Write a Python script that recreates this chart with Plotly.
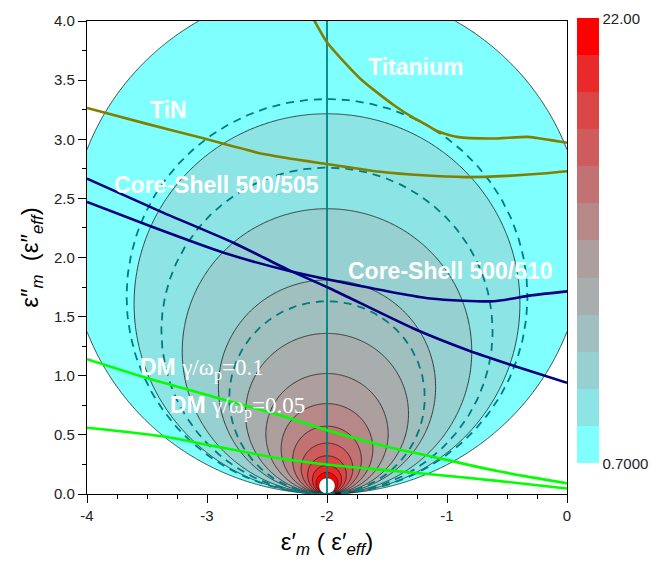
import numpy as np
import plotly.graph_objects as go

# ---------------- data ----------------
LEVEL_MIN = 0.7          # lowest contour level (colorbar bottom)
LEVEL_MAX = 22.0         # highest contour level (colorbar top)
N_BANDS = 12             # number of filled bands (geometric levels)
BAND_COLORS = [          # bottom -> top
    "#80FFFF", "#8CE4E4", "#97D0D0", "#A0BFBF", "#A8ADAD", "#AE9F9F",
    "#B68888", "#C27272", "#CE5C5C", "#DA4545", "#EA2A2A", "#FF0000",
]
DASHED_TOPS = [3.34, 2.76, 1.63]   # tops of dashed circles tangent at (-2, 0)
RESONANCE_X = -2.0

TITANIUM_X = [-2.13, -2.0, -1.72, -1.445, -1.278, -1.167, -1.083, -0.917, -0.64, -0.333, -0.25, 0.0]
TITANIUM_Y = [4.05, 3.82, 3.51, 3.29, 3.18, 3.12, 3.07, 3.02, 3.006, 3.02, 3.01, 2.97]

TIN_X = [-4.0, -3.5, -3.056, -2.53, -2.0, -1.556, -1.2, -0.85, -0.5, -0.2, 0.0]
TIN_Y = [3.265, 3.13, 3.014, 2.875, 2.79, 2.725, 2.695, 2.68, 2.69, 2.71, 2.73]

CS505_X = [-4.0, -3.39, -2.78, -2.33, -1.97, -1.28, -0.81, -0.4, 0.0]
CS505_Y = [2.667, 2.39, 2.125, 1.90, 1.736, 1.40, 1.21, 1.07, 0.94]

CS510_X = [-4.0, -3.47, -2.86, -2.33, -1.97, -1.14, -0.61, -0.3, 0.0]
CS510_Y = [2.47, 2.264, 2.04, 1.89, 1.81, 1.653, 1.63, 1.68, 1.714]

DM01_X = [-4.0, -3.5, -2.94, -2.39, -1.97, -1.5, -1.14, -0.58, 0.0]
DM01_Y = [1.14, 0.98, 0.82, 0.665, 0.53, 0.40, 0.32, 0.194, 0.09]

DM005_X = [-4.0, -3.36, -2.94, -2.39, -1.97, -1.5, -1.14, -0.58, 0.0]
DM005_Y = [0.56, 0.486, 0.405, 0.30, 0.245, 0.20, 0.167, 0.111, 0.047]

X_TICKS = [-4, -3, -2, -1, 0]
Y_TICKS = [0.0, 0.5, 1.0, 1.5, 2.0, 2.5, 3.0, 3.5, 4.0]

# ---------------- field: Im[(eps-1)/(eps+2)] ----------------
s = np.linspace(-1, 1, 401)
xg = RESONANCE_X + 2.0 * np.sign(s) * s**2
t = np.linspace(0, 1, 301)
yg = 4.0 * t**2
X, Y = np.meshgrid(xg, yg)
with np.errstate(divide="ignore", invalid="ignore"):
    Z = 3.0 * Y / ((X - RESONANCE_X) ** 2 + Y ** 2)
Z = np.nan_to_num(Z, nan=1e3, posinf=1e3)
LZ = np.log(np.clip(Z, 1e-2, 1e3))
LZ = np.round(LZ, 4)

lmin, lmax = np.log(LEVEL_MIN), np.log(LEVEL_MAX)
dl = (lmax - lmin) / N_BANDS
nlev = N_BANDS + 1
cscale = [[0.0, "#FFFFFF"]]
for k, c in enumerate(BAND_COLORS):
    cscale.append([(k + 1) / nlev, c])
cscale.append([1.0, "#FFFFFF"])

fig = go.Figure()
fig.add_trace(go.Contour(
    x=xg, y=yg, z=LZ,
    colorscale=cscale, showscale=False,
    contours=dict(start=lmin, end=lmax, size=dl, coloring="fill", showlines=True),
    line=dict(color="#1a1a1a", width=0.8, smoothing=1.0),
    hoverinfo="skip",
))

# dashed circles
th = np.linspace(0, 2 * np.pi, 361)
for top in DASHED_TOPS:
    r = top / 2.0
    fig.add_trace(go.Scatter(
        x=RESONANCE_X + r * np.sin(th), y=r - r * np.cos(th), mode="lines",
        line=dict(color="#007C80", width=1.8, dash="8px,6px"), hoverinfo="skip"))

# vertical resonance line
fig.add_trace(go.Scatter(x=[RESONANCE_X, RESONANCE_X], y=[0, 4], mode="lines",
                         line=dict(color="#008080", width=1.8), hoverinfo="skip"))

curves = [
    (TITANIUM_X, TITANIUM_Y, "#808000"),
    (TIN_X, TIN_Y, "#808000"),
    (CS505_X, CS505_Y, "#000080"),
    (CS510_X, CS510_Y, "#000080"),
    (DM01_X, DM01_Y, "#00FF00"),
    (DM005_X, DM005_Y, "#00FF00"),
]
for cx, cy, col in curves:
    fig.add_trace(go.Scatter(x=cx, y=cy, mode="lines", line=dict(color=col, width=2.6, shape="spline", smoothing=0.6),
                             hoverinfo="skip"))

# discrete colorbar (dummy trace)
step_scale = []
for i, c in enumerate(BAND_COLORS):
    step_scale.append([i / N_BANDS, c])
    step_scale.append([(i + 1) / N_BANDS, c])
fig.add_trace(go.Scatter(
    x=[-10], y=[-10], mode="markers", hoverinfo="skip",
    marker=dict(size=1, color=[0], cmin=0, cmax=N_BANDS, colorscale=step_scale, showscale=True,
                colorbar=dict(x=1.0208, xanchor="left", xpad=0, y=0.5354, yanchor="middle", ypad=0,
                              len=452 / 480, lenmode="fraction", thickness=22, outlinewidth=0,
                              tickvals=[0, N_BANDS], ticktext=["0.7000", "22.00"], ticks="",
                              tickfont=dict(family="Liberation Sans, Arial", size=15, color="#222")))))

lab_font = dict(family="Liberation Sans, Arial", size=23, color="white")
serif = "font-family:'Liberation Serif', 'Times New Roman', serif;font-weight:normal"
labels = [
    (-1.264, 3.61, "<b>Titanium</b>"),
    (-3.32, 3.25, "<b>TiN</b>"),
    (-2.917, 2.61, "<b>Core-Shell 500/505</b>"),
    (-0.972, 1.889, "<b>Core-Shell 500/510</b>"),
    (-3.04, 1.056, f"<b>DM</b> <span style=\"{serif}\">γ/ω<sub>p</sub>=0.1</span>"),
    (-2.75, 0.733, f"<b>DM</b> <span style=\"{serif}\">γ/ω<sub>p</sub>=0.05</span>"),
]
for lx, ly, txt in labels:
    fig.add_annotation(x=lx, y=ly, text=txt, showarrow=False, font=lab_font,
                       xanchor="center", yanchor="middle")

axis_common = dict(showline=True, linecolor="black", linewidth=1.3, mirror=True,
                   ticks="outside", ticklen=8, tickwidth=1.2, tickcolor="black",
                   showgrid=False, zeroline=False,
                   tickfont=dict(family="Liberation Sans, Arial", size=15, color="#222"))
fig.update_xaxes(range=[-4, 0], tickvals=X_TICKS, ticktext=[str(v) for v in X_TICKS],
                 minor=dict(dtick=0.25, ticks="outside", ticklen=4, tickcolor="black", tick0=0),
                 title=dict(text="ε′<sub><i>m</i></sub> ( ε′<sub><i>eff</i></sub>)",
                            font=dict(family="Liberation Sans, Arial", size=24, color="black"), standoff=10),
                 **axis_common)
fig.update_yaxes(range=[0, 4], tickvals=Y_TICKS, ticktext=[f"{v:.1f}" for v in Y_TICKS],
                 minor=dict(dtick=0.25, ticks="outside", ticklen=4, tickcolor="black", tick0=0),
                 title=dict(text="ε″<sub><i>m</i></sub>  (ε″<sub><i>eff</i></sub>)",
                            font=dict(family="Liberation Sans, Arial", size=24, color="black"), standoff=8),
                 **axis_common)
fig.update_layout(width=660, height=563, margin=dict(l=87, r=93, t=15, b=68),
                  paper_bgcolor="white", plot_bgcolor="white", showlegend=False)
fig.write_html("out.html")
